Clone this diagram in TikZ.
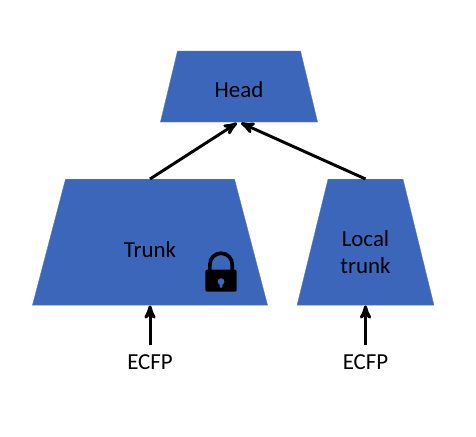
\documentclass[tikz,border=0pt]{standalone}
\usepackage{fontspec}
\setmainfont{Carlito}
\usepackage{xcolor}
\definecolor{BlockBlue}{HTML}{3C66BA}
\usetikzlibrary{calc,arrows,positioning,shapes.geometric}

\begin{document}
\begin{tikzpicture}[scale=1.0,transform shape]

  % Styles
  \tikzstyle{block}=[trapezium,fill=BlockBlue,draw=BlockBlue!85!white,line width=0.3pt,inner sep=0pt]
  \tikzstyle{lbl}=[font=\fontsize{16.3pt}{19.5pt}\selectfont,align=center,text=black,inner sep=1pt]
  \tikzstyle{to}=[->,>=stealth',line width=2.1pt]

  % \block{<id>}{<angle>}{<top width>}{<height>}
  \newcommand{\block}[4]{node[block,trapezium angle=#2] (#1) {\phantom{\rule{#3cm}{#4cm}}}}

  % ===========================================================================

  \useasboundingbox (0,0) rectangle (11.9,10.9);

  % Draw blocks
  \path (5.975,8.7375)           \block{head}{76.5}{3.075}{1.775};
  \path (head.south) +(-2.225,-3.0) \block{trunk}{75.3}{4.225}{3.15};
  \path (head.south) +(3.1625,-3.0) \block{local}{76.2}{1.875}{3.15};

  % Draw labels
  \path (head.center) +(0,-0.09) node[lbl] (headlbl) {Head};
  \path (trunk.center) +(0,-0.175) node[lbl] (trunklbl) {Trunk};
  \path (local.center) +(0,-0.25) node[lbl] (locallbl) {Local\\trunk};
  \path (trunk.south) +(0,-1.425) node[lbl] (ecfpa) {ECFP};
  \path (local.south) +(0,-1.425) node[lbl] (ecfpb) {ECFP};

  % Draw lock
  \coordinate (lock) at ($(trunk.south)+(1.775,0.625)$);
  \draw[line width=2.6pt] ($(lock)+(-0.28,0.2)$) -- ($(lock)+(-0.28,0.4)$) arc (180:0:0.28) -- ($(lock)+(0.28,0.2)$);
  \fill[black,rounded corners=1pt] ($(lock)+(-0.39,-0.28)$) rectangle ($(lock)+(0.39,0.27)$);
  \fill[BlockBlue] ($(lock)+(0,-0.03)$) circle (0.085);
  \fill[BlockBlue] ($(lock)+(-0.04,-0.03)$) -- ($(lock)+(0.04,-0.03)$) -- ($(lock)+(0.03,-0.18)$) -- ($(lock)+(-0.03,-0.18)$) -- cycle;

  % Draw arrows
  \draw[to] (trunk.north) -- ($(head.south)+(-0.05,-0.02)$);
  \draw[to] (local.north) -- ($(head.south)+(0.05,-0.02)$);
  \draw[to,shorten <=5.5pt] (ecfpa.north) -- (trunk.south);
  \draw[to,shorten <=5.5pt] (ecfpb.north) -- (local.south);

\end{tikzpicture}
\end{document}
